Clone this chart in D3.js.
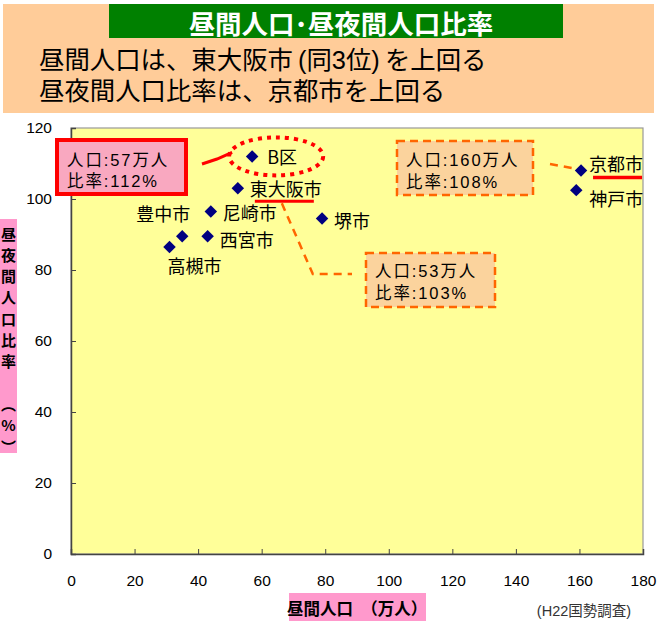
<!DOCTYPE html>
<html><head><meta charset="utf-8">
<script src="https://cdn.jsdelivr.net/npm/d3@7"></script>
<style>
html,body{margin:0;padding:0;background:#fff;}
svg{display:block;}
</style></head>
<body>
<script>
// ---- data ----
const cities   = ["B区","東大阪市","尼崎市","西宮市","豊中市","高槻市","堺市","京都市","神戸市"];
const dayPop   = [57, 52.5, 44, 43, 35, 31, 79, 160.5, 159];      // 昼間人口（万人）
const ratio    = [112, 103, 96.5, 89.5, 89.5, 86.5, 94.5, 108, 102.5]; // 昼夜間人口比率（%）
const xTicks   = [0,20,40,60,80,100,120,140,160,180];
const yTicks   = [0,20,40,60,80,100,120];
const titleText = "昼間人口･昼夜間人口比率";
const subLines  = ["昼間人口は、東大阪市\u2009(同3位)\u2009を上回る","昼夜間人口比率は、京都市を上回る"];
const calloutB   = ["人口:57万人","比率:112%"];
const calloutKyo = ["人口:160万人","比率:108%"];
const calloutHO  = ["人口:53万人","比率:103%"];
const xTitle = "昼間人口　（万人）";
const yTitleChars = ["昼","夜","間","人","口","比","率","","︵","%","︶"];
const source = "(H22国勢調査)";

const W = 664, H = 636;
const JP = "'Noto Sans CJK JP','Noto Sans',sans-serif";
const AR = "'Liberation Sans',Arial,'Noto Sans CJK JP',sans-serif";

const svg = d3.select("body").append("svg").attr("width", W).attr("height", H);

// header
svg.append("rect").attr("x",3).attr("y",4).attr("width",651).attr("height",109).attr("fill","#FFCC99");
svg.append("rect").attr("x",109).attr("y",4).attr("width",454).attr("height",34).attr("fill","#008000");
svg.append("text").attr("x",341).attr("y",22).attr("text-anchor","middle").attr("dominant-baseline","central")
  .attr("font-family",JP).attr("font-weight","bold").attr("font-size",26.5).attr("fill","#fff").text(titleText);
svg.selectAll("text.sub").data(subLines).join("text").attr("class","sub")
  .attr("x",39).attr("y",(d,i)=>60+i*31).attr("dominant-baseline","central")
  .attr("font-family",AR).attr("font-size",25.4).attr("fill","#000").text(d=>d);

// plot
const L = 71, R = 643, T = 128, B = 554;
const x = d3.scaleLinear().domain([0,180]).range([L,R]);
const y = d3.scaleLinear().domain([0,120]).range([B,T]);

svg.append("rect").attr("x",L).attr("y",T).attr("width",R-L).attr("height",B-T)
  .attr("fill","#FFFF99").attr("stroke","#999").attr("stroke-width",1.2);

// axes
const xAxis = d3.axisBottom(x).tickValues(xTicks).tickSize(-5).tickPadding(21);
const gx = svg.append("g").attr("transform",`translate(0,${B})`).call(xAxis);
gx.select(".domain").attr("stroke","#444").attr("stroke-width",1.5);
gx.selectAll(".tick line").attr("stroke","#444");
gx.selectAll("text").attr("font-family",AR).attr("font-size",15.5).attr("fill","#000");

const yAxis = d3.axisLeft(y).tickValues(yTicks).tickSize(-5).tickPadding(19);
const gy = svg.append("g").attr("transform",`translate(${L},0)`).call(yAxis);
gy.select(".domain").attr("stroke","#444").attr("stroke-width",1.5);
gy.selectAll(".tick line").attr("stroke","#444");
gy.selectAll("text").attr("font-family",AR).attr("font-size",15.5).attr("fill","#000");

// axis titles
svg.append("rect").attr("x",289).attr("y",593).attr("width",137).attr("height",28).attr("fill","#FF99CC");
svg.append("text").attr("x",357).attr("y",608).attr("text-anchor","middle").attr("dominant-baseline","central")
  .attr("font-family",JP).attr("font-weight","bold").attr("font-size",16.5).text(xTitle);
svg.append("text").attr("x",584).attr("y",611).attr("text-anchor","middle").attr("dominant-baseline","central")
  .attr("font-family",AR).attr("font-size",14.5).attr("fill","#333").text(source);

svg.append("rect").attr("x",0).attr("y",219).attr("width",17).attr("height",234).attr("fill","#FF99CC");
svg.selectAll("text.yt").data(yTitleChars).join("text").attr("class","yt")
  .attr("x",8.5).attr("y",(d,i)=>233+i*21.3).attr("text-anchor","middle").attr("dominant-baseline","central")
  .attr("font-family",JP).attr("font-weight","bold").attr("font-size",15).text(d=>d);

// annotations (behind labels)
const ann = svg.append("g");
const pt = i => [x(dayPop[i]), y(ratio[i])];
const [bx,by] = pt(0), [hx,hy] = pt(1), [kx,ky] = pt(7);
const calloutText = (cls, lines, x0, y0, gap) =>
  ann.selectAll("text."+cls).data(lines).join("text").attr("class",cls)
    .attr("x",x0).attr("y",(d,i)=>y0+i*gap).attr("dominant-baseline","central")
    .attr("font-family",AR).attr("font-size",16.5).attr("letter-spacing",1.9).text(d=>d);

// B区 callout: red box + solid red connector + dotted ellipse
ann.append("rect").attr("x",57).attr("y",140).attr("width",129).attr("height",54)
  .attr("fill","#F9A8C0").attr("stroke","#FF0000").attr("stroke-width",4);
ann.append("path").attr("d",`M202,164 L217,159 L${bx-20},${by-4}`).attr("fill","none")
  .attr("stroke","#FF0000").attr("stroke-width",3);
ann.append("ellipse").attr("cx",bx+24).attr("cy",by).attr("rx",47).attr("ry",19)
  .attr("fill","none").attr("stroke","#FF0000").attr("stroke-width",4).attr("stroke-dasharray","4,5");
calloutText("cb", calloutB, 67, 160, 21);

// 京都市 callout
ann.append("rect").attr("x",397).attr("y",141).attr("width",136).attr("height",54)
  .attr("fill","#FBD39D").attr("stroke","#FF6600").attr("stroke-width",2.5).attr("stroke-dasharray","8,5");
ann.append("path").attr("d",`M550,164 L${kx-6},${ky-2}`).attr("fill","none")
  .attr("stroke","#FF6600").attr("stroke-width",2.5).attr("stroke-dasharray","8,6");
calloutText("ck", calloutKyo, 406, 160, 22);

// 東大阪市 callout
ann.append("rect").attr("x",366).attr("y",253).attr("width",129).attr("height",54)
  .attr("fill","#FBD39D").attr("stroke","#FF6600").attr("stroke-width",2.5).attr("stroke-dasharray","8,5");
ann.append("path").attr("d",`M${hx+44},${hy+15} L${hx+75},274 L352,274`).attr("fill","none")
  .attr("stroke","#FF6600").attr("stroke-width",2.5).attr("stroke-dasharray","8,6");
calloutText("ch", calloutHO, 375, 271, 22);

// red underlines
ann.append("line").attr("x1",hx+17).attr("x2",hx+76).attr("y1",hy+13).attr("y2",hy+13)
  .attr("stroke","#FF0000").attr("stroke-width",3);
ann.append("line").attr("x1",kx+12).attr("x2",kx+61).attr("y1",ky+7).attr("y2",ky+7)
  .attr("stroke","#FF0000").attr("stroke-width",3.5);

// points
const idx = d3.range(cities.length);
svg.selectAll("path.pt").data(idx).join("path").attr("class","pt")
  .attr("d", d3.symbol().type(d3.symbolSquare).size(78))
  .attr("transform", i => `translate(${x(dayPop[i])},${y(ratio[i])}) rotate(45)`)
  .attr("fill","#000080");

// labels: [dx, dy, anchor]
const lab = {
  "B区":[15,0,"start"], "東大阪市":[12,0,"start"], "尼崎市":[12,1,"start"], "西宮市":[12,3,"start"],
  "豊中市":[8,-23,"end"], "高槻市":[-2,18,"start"], "堺市":[12,1,"start"], "京都市":[8,-8,"start"], "神戸市":[13,8,"start"]
};
svg.selectAll("text.lbl").data(idx).join("text").attr("class","lbl")
  .attr("x", i => x(dayPop[i]) + lab[cities[i]][0])
  .attr("y", i => y(ratio[i]) + lab[cities[i]][1])
  .attr("text-anchor", i => lab[cities[i]][2])
  .attr("dominant-baseline","central")
  .attr("font-family",JP).attr("font-size",18).attr("fill","#000")
  .text(i => cities[i]);
</script>
</body></html>
